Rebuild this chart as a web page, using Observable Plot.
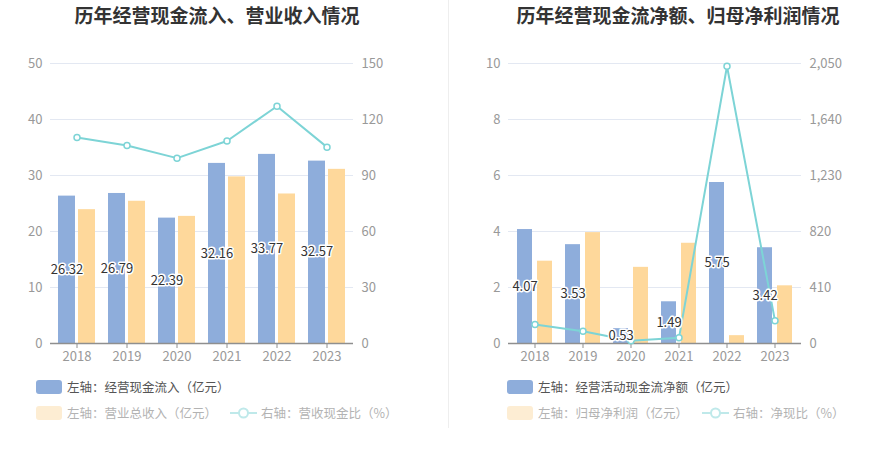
<!DOCTYPE html>
<html><head><meta charset="utf-8">
<script src="https://cdn.jsdelivr.net/npm/d3@7"></script>
<script src="https://cdn.jsdelivr.net/npm/@observablehq/plot@0.6"></script>
<style>
body{margin:0;background:#fff;font-family:"Noto Sans CJK SC","Noto Sans",sans-serif;}
#root{position:relative;width:893px;height:458px;overflow:hidden;background:#fff}
.title{position:absolute;top:3px;line-height:24px;font-size:19px;font-weight:bold;color:#333;transform:translateX(-50%);white-space:nowrap}
.chart{position:absolute;top:35px}
.leg{position:absolute;font-size:12.5px;line-height:16px;color:#555;display:flex;align-items:center;white-space:nowrap}
.leg.faded{color:#b3b3b3}
.sw{width:26px;height:14px;border-radius:3px;margin-right:5px}
.divider{position:absolute;left:448px;top:0;height:428px;border-left:1px solid #eee}
</style></head>
<body>
<div id="root">
  <div class="title" style="left:217px">历年经营现金流入、营业收入情况</div>
  <div class="title" style="left:678px">历年经营现金流净额、归母净利润情况</div>
  <div class="divider"></div>
  <div id="c1" class="chart" style="left:0px"></div>
  <div id="c2" class="chart" style="left:447px"></div>
  <div id="legends"></div>
</div>
<script>
const years = ["2018", "2019", "2020", "2021", "2022", "2023"];
// Left chart
const cashInflow = [26.32, 26.79, 22.39, 32.16, 33.77, 32.57];
const revenue = [23.9, 25.4, 22.7, 29.75, 26.7, 31.1];
const cashRevRatio = [110.4, 106.1, 99.3, 108.5, 127.1, 105.2];
// Right chart
const netCashFlow = [4.07, 3.53, 0.53, 1.49, 5.75, 3.42];
const netProfit = [2.94, 3.96, 2.72, 3.58, 0.28, 2.06];
const netCashRatio = [139, 89, 19.5, 41.6, 2030, 166];

const leftTicks = [0, 10, 20, 30, 40, 50];
const leftRightTicks = [0, 30, 60, 90, 120, 150];
const rightTicks = [0, 2, 4, 6, 8, 10];
const rightRightTicks = [0, 410, 820, 1230, 1640, 2050];

const BLUE = "#8eaddb", ORANGE = "#fed89b", CYAN = "#7dd4d6";

function makeChart({a, b, r, ticks, rTicks, marginLeft, marginRight}) {
  const yMax = ticks[ticks.length - 1], rMax = rTicks[rTicks.length - 1];
  const k = yMax / rMax;
  const data = years.map((y, i) => ({year: y, a: a[i], b: b[i], r: r[i]}));
  const fmt = d3.format(",");
  return Plot.plot({
    width: 446, height: 340,
    marginTop: 28, marginBottom: 32, marginLeft, marginRight,
    style: {fontSize: "13px", color: "#999", background: "transparent", fontFamily: "'Noto Sans CJK SC', 'Noto Sans', sans-serif"},
    x: {domain: years, paddingInner: 0.27, paddingOuter: 0.135, axis: null},
    y: {domain: [0, yMax], axis: null},
    marks: [
      Plot.gridY(ticks, {stroke: "#e3e8f2", strokeOpacity: 1}),
      Plot.axisY(ticks, {anchor: "left", tickSize: 0, tickPadding: 8, label: null, fill: "#999"}),
      Plot.axisY(ticks, {anchor: "right", tickSize: 0, tickPadding: 8, label: null, fill: "#999",
        tickFormat: (d, i) => fmt(rTicks[i])}),
      Plot.barY(data, {x: "year", y: "a", fill: BLUE, insetRight: 20}),
      Plot.barY(data, {x: "year", y: "b", fill: ORANGE, insetLeft: 20}),
      Plot.ruleY([0], {stroke: "#8f8f8f", strokeWidth: 1.5}),
      Plot.axisX({tickSize: 5, tickPadding: 3, stroke: "#8f8f8f", fill: "#999", label: null}),
      Plot.line(data, {x: "year", y: d => d.r * k, stroke: CYAN, strokeWidth: 2}),
      Plot.dot(data, {x: "year", y: d => d.r * k, r: 3, fill: "white", stroke: CYAN, strokeWidth: 1.5}),
      Plot.text(data, {x: "year", y: d => d.a / 2, text: d => d.a.toFixed(2), dx: -10,
        fill: "#333", stroke: "white", strokeWidth: 3, fontSize: 13})
    ]
  });
}

document.getElementById("c1").append(makeChart({
  a: cashInflow, b: revenue, r: cashRevRatio, ticks: leftTicks, rTicks: leftRightTicks,
  marginLeft: 50, marginRight: 93
}));
document.getElementById("c2").append(makeChart({
  a: netCashFlow, b: netProfit, r: netCashRatio, ticks: rightTicks, rTicks: rightRightTicks,
  marginLeft: 61, marginRight: 92
}));

// Legends
const legendItems = [
  {type: "sw", color: BLUE, text: "左轴：经营现金流入（亿元）", x: 36, y: 379, faded: false},
  {type: "sw", color: "#fdedd3", text: "左轴：营业总收入（亿元）", x: 36, y: 405, faded: true},
  {type: "ln", color: "#bfe9ea", text: "右轴：营收现金比（%）", x: 230, y: 405, faded: true},
  {type: "sw", color: BLUE, text: "左轴：经营活动现金流净额（亿元）", x: 507, y: 379, faded: false},
  {type: "sw", color: "#fdedd3", text: "左轴：归母净利润（亿元）", x: 507, y: 405, faded: true},
  {type: "ln", color: "#bfe9ea", text: "右轴：净现比（%）", x: 702, y: 405, faded: true}
];
const lg = document.getElementById("legends");
for (const it of legendItems) {
  const div = document.createElement("div");
  div.className = "leg" + (it.faded ? " faded" : "");
  div.style.left = it.x + "px";
  div.style.top = it.y + "px";
  if (it.type === "sw") {
    const s = document.createElement("div");
    s.className = "sw";
    s.style.background = it.color;
    div.append(s);
  } else {
    const ns = "http://www.w3.org/2000/svg";
    const svg = document.createElementNS(ns, "svg");
    svg.setAttribute("width", 27); svg.setAttribute("height", 16);
    svg.style.marginRight = "4px";
    svg.innerHTML = `<line x1="0" y1="8" x2="27" y2="8" stroke="${it.color}" stroke-width="2"/>` +
      `<circle cx="13.5" cy="8" r="4.5" fill="white" stroke="${it.color}" stroke-width="2"/>`;
    div.append(svg);
  }
  const t = document.createElement("span");
  t.textContent = it.text;
  div.append(t);
  lg.append(div);
}
</script>
</body></html>
